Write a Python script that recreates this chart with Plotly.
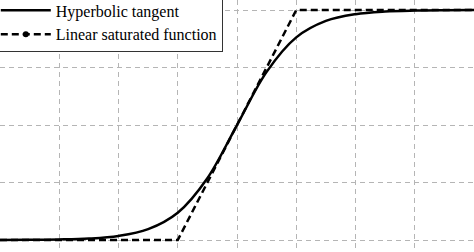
import plotly.graph_objects as go

# Data
x_tanh = [-4.0, -3.5, -3.0, -2.5, -2.0, -1.5, -1.0, -0.5, 0.0, 0.5, 1.0, 1.5, 2.0, 2.5, 3.0, 3.5, 4.0]
y_tanh = [-0.999, -0.998, -0.995, -0.987, -0.964, -0.905, -0.762, -0.462, 0.0,
          0.462, 0.762, 0.905, 0.964, 0.987, 0.995, 0.998, 0.999]
x_lin = [-4.0, -1.0, 1.0, 4.0]
y_lin = [-1.0, -1.0, 1.0, 1.0]
x_grid = [-3, -2, -1, 0, 1, 2, 3]
y_grid = [-1, -0.5, 0, 0.5, 1]

fig = go.Figure()
fig.add_trace(go.Scatter(x=x_tanh, y=y_tanh, mode="lines", name="Hyperbolic tangent",
                         line=dict(color="black", width=2.5, shape="spline")))
fig.add_trace(go.Scatter(x=x_lin, y=y_lin, mode="lines", name="Linear saturated function",
                         showlegend=False,
                         line=dict(color="black", width=2.5, dash="7px,4px")))
# legend entry for the dashed line with a dot marker
fig.add_trace(go.Scatter(x=[None], y=[None], mode="lines+markers", name="Linear saturated function",
                         line=dict(color="black", width=2.5, dash="7px,4px"),
                         marker=dict(color="black", size=6)))

grid = dict(showgrid=True, gridcolor="#b5b5b5", gridwidth=1, griddash="5px,4px",
            showticklabels=False, ticks="", zeroline=False, showline=False)
fig.update_layout(
    width=474, height=252,
    margin=dict(l=0, r=0, t=0, b=0, autoexpand=False),
    plot_bgcolor="white", paper_bgcolor="white",
    xaxis=dict(range=[-4, 4], tickvals=x_grid, **grid),
    yaxis=dict(range=[-1.104, 1.087], tickvals=y_grid, **grid),
    legend=dict(x=-0.011, y=1.03, xanchor="left", yanchor="top",
                bgcolor="white", bordercolor="#333333", borderwidth=1,
                font=dict(family="Liberation Serif", size=16, color="black"),
                itemwidth=50, tracegroupgap=0),
    showlegend=True,
)
fig.write_html("out.html")
